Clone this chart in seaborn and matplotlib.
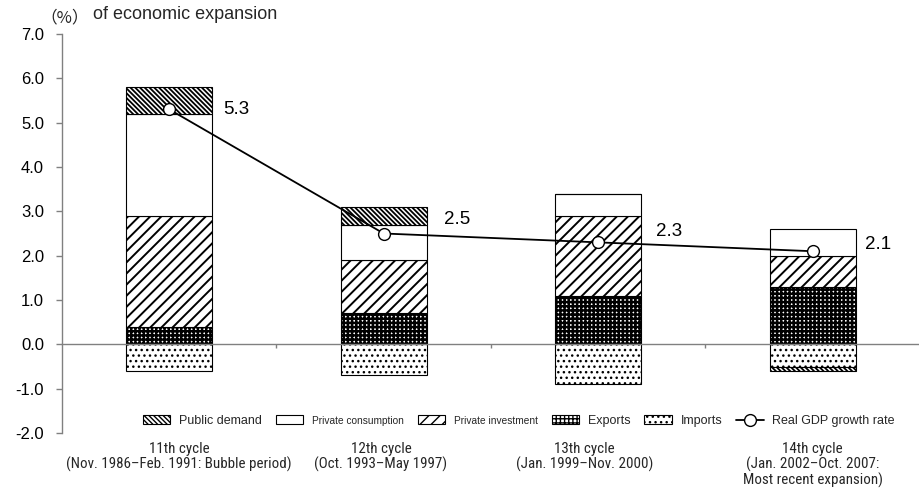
import numpy as np
import matplotlib
matplotlib.use("Agg")
import matplotlib.pyplot as plt
import seaborn as sns

# Contributions to real GDP growth by demand component (percentage points)
cycles = [
    "11th cycle\n(Nov. 1986\u2013Feb. 1991: Bubble period)",
    "12th cycle\n(Oct. 1993\u2013May 1997)",
    "13th cycle\n(Jan. 1999\u2013Nov. 2000)",
    "14th cycle\n(Jan. 2002\u2013Oct. 2007:\nMost recent expansion)",
]
exports = [0.4, 0.7, 1.1, 1.3]
imports = [-0.6, -0.7, -0.9, -0.5]
private_investment = [2.5, 1.2, 1.8, 0.7]
private_consumption = [2.3, 0.8, 0.5, 0.6]
public_demand = [0.6, 0.4, 0.0, -0.1]
gdp_growth = [5.3, 2.5, 2.3, 2.1]

# label offsets (points) for the growth-rate annotations
label_offsets = [(48, 0), (53, 10), (51, 8), (47, 5)]
# horizontal nudges (points) for the cycle captions
caption_dx = [7, -2, -10, 0]

yticks = [-2.0, -1.0, 0.0, 1.0, 2.0, 3.0, 4.0, 5.0, 6.0, 7.0]

sns.set_theme(style="white")
plt.rcParams["font.family"] = ["Liberation Sans", "DejaVu Sans"]
plt.rcParams["hatch.color"] = "black"

fig = plt.figure(figsize=(9.2, 4.93), dpi=100)
ax = fig.add_axes([62 / 920, 1 - 433 / 493, 1 - 62 / 920, (433 - 34) / 493])

x = np.arange(len(cycles))
pos_base = np.zeros(len(x))
neg_base = np.zeros(len(x))

# stacking order: positives build upward from zero, negatives downward
components = [
    ("Exports", exports, "++++", 1.8),
    ("Imports", imports, "...", 1.0),
    ("Private investment", private_investment, "///", 1.4),
    ("Private consumption", private_consumption, "", 1.0),
    ("Public demand", public_demand, "\\" * 7, 1.3),
]

handles = {}
for name, vals, hatch, hlw in components:
    vals = np.asarray(vals, dtype=float)
    bottoms = np.where(vals >= 0, pos_base, neg_base)
    with plt.rc_context({"hatch.linewidth": hlw}):
        bars = ax.bar(x, vals, bottom=bottoms, width=0.4, color="white",
                      edgecolor="black", linewidth=0.8, hatch=hatch or None,
                      label=name, zorder=2)
    for p in bars.patches:
        if hasattr(p, "set_hatch_linewidth"):
            p.set_hatch_linewidth(hlw)
    handles[name] = bars
    pos_base = np.where(vals >= 0, pos_base + vals, pos_base)
    neg_base = np.where(vals < 0, neg_base + vals, neg_base)

sns.lineplot(x=x, y=gdp_growth, ax=ax, color="black", linewidth=1.3,
             marker="o", markersize=8.5, markerfacecolor="white",
             markeredgecolor="black", markeredgewidth=1.0, zorder=4,
             legend=False)
gdp_line = ax.lines[-1]
gdp_line.set_label("Real GDP growth rate")

for xi, v, (dx, dy) in zip(x, gdp_growth, label_offsets):
    ax.annotate(f"{v:.1f}", xy=(xi, v), xytext=(dx, dy),
                textcoords="offset points", ha="center", va="center",
                fontsize=13.5, color="black")

# axes styling
ax.set_ylim(-2.0, 7.0)
ax.set_xlim(-0.5, -0.5 + (920 - 62) / 217.5)
ax.set_yticks(yticks)
ax.set_yticklabels([f"{t:.1f}" for t in yticks])
for s in ["top", "right"]:
    ax.spines[s].set_visible(False)
ax.spines["left"].set_color("#808080")
ax.spines["left"].set_linewidth(1.0)
ax.spines["bottom"].set_position(("data", 0))
ax.spines["bottom"].set_color("#808080")
ax.spines["bottom"].set_linewidth(1.0)
ax.spines["bottom"].set_zorder(3)
ax.tick_params(axis="y", direction="out", length=4, width=1, color="#808080",
               pad=9, labelsize=12, labelcolor="black", left=True)
ax.set_xticks(x + 0.5)
ax.set_xticklabels([])
ax.tick_params(axis="x", direction="out", length=3, width=1, color="#808080",
               bottom=True)
ax.grid(False)

for xi, lab, dx in zip(x, cycles, caption_dx):
    ax.annotate(lab, xy=(xi, 0), xycoords=("data", "axes fraction"),
                xytext=(dx, -6.5), textcoords="offset points", ha="center",
                va="top", fontsize=10.8, linespacing=1.05,
                family=["Roboto Condensed", "Liberation Sans"])

order = ["Public demand", "Private consumption", "Private investment",
         "Exports", "Imports"]
leg_handles = [handles[n] for n in order] + [gdp_line]
leg_labels = order + ["Real GDP growth rate"]
leg = fig.legend(leg_handles, leg_labels, ncol=6, loc="center left",
                 bbox_to_anchor=(143 / 920, 1 - 421 / 493), frameon=False,
                 fontsize=9, handlelength=2.2, handleheight=0.7,
                 handletextpad=0.7, columnspacing=1.1, borderpad=0,
                 borderaxespad=0)
for t in leg.get_texts():
    if t.get_text().startswith("Private"):
        t.set_fontsize(7.3)

fig.text(93 / 920, 1 - 19 / 493, "of economic expansion", fontsize=13,
         va="baseline", ha="left")
fig.text(65 / 920, 1 - 18 / 493, "（%）", fontsize=12, ha="center",
         va="center", family=["Noto Sans CJK JP", "DejaVu Sans"])

fig.savefig("out.png", dpi=100)
